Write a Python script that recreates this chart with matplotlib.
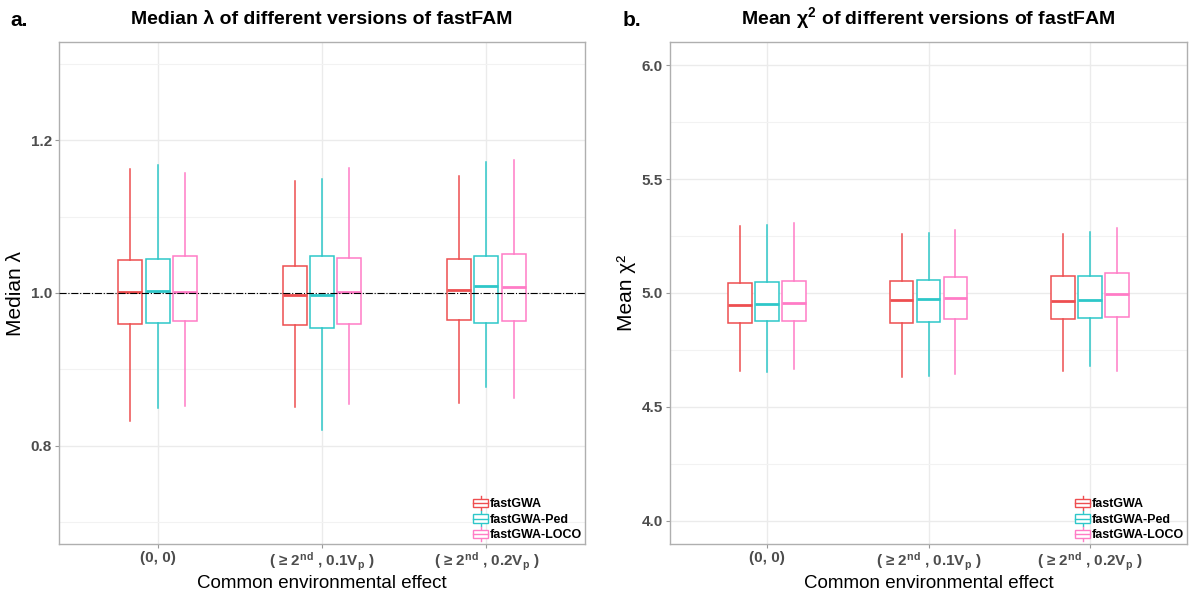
import matplotlib
matplotlib.use("Agg")
import matplotlib.pyplot as plt
from matplotlib.legend_handler import HandlerBase
from matplotlib.patches import Rectangle, Patch
from matplotlib.lines import Line2D
from matplotlib.ticker import MultipleLocator

plt.rcParams['font.family'] = ['Liberation Sans', 'DejaVu Sans']
plt.rcParams['mathtext.fontset'] = 'custom'
plt.rcParams['mathtext.rm'] = 'Liberation Sans'
plt.rcParams['mathtext.bf'] = 'Liberation Sans:bold'
plt.rcParams['mathtext.default'] = 'bf'

# ---------------- data ----------------
categories = ["(0, 0)",
              r"( ≥ 2$^{nd}$ , 0.1V$_{p}$ )",
              r"( ≥ 2$^{nd}$ , 0.2V$_{p}$ )"]
series_names = ["fastGWA", "fastGWA-Ped", "fastGWA-LOCO"]
series_colors = ["#EE4E50", "#2EC7C9", "#FF7CC6"]

# (whisker low, Q1, median, Q3, whisker high) per category
lambda_fastGWA = [(0.832, 0.959, 1.001, 1.043, 1.163),
                  (0.851, 0.958, 0.998, 1.036, 1.147),
                  (0.856, 0.964, 1.004, 1.045, 1.153)]
lambda_fastGWA_Ped = [(0.849, 0.961, 1.003, 1.044, 1.168),
                      (0.820, 0.954, 0.998, 1.048, 1.150),
                      (0.877, 0.961, 1.009, 1.048, 1.172)]
lambda_fastGWA_LOCO = [(0.852, 0.963, 1.001, 1.048, 1.157),
                       (0.855, 0.959, 1.001, 1.046, 1.164),
                       (0.863, 0.963, 1.008, 1.051, 1.174)]

chisq_fastGWA = [(4.657, 4.867, 4.948, 5.045, 5.292),
                 (4.631, 4.867, 4.971, 5.054, 5.259),
                 (4.656, 4.885, 4.965, 5.073, 5.259)]
chisq_fastGWA_Ped = [(4.655, 4.875, 4.952, 5.048, 5.300),
                     (4.636, 4.873, 4.972, 5.055, 5.265),
                     (4.679, 4.889, 4.968, 5.073, 5.268)]
chisq_fastGWA_LOCO = [(4.666, 4.876, 4.956, 5.051, 5.308),
                      (4.644, 4.885, 4.980, 5.070, 5.277),
                      (4.656, 4.895, 4.994, 5.087, 5.287)]

lambda_ticks = [0.8, 1.0, 1.2]
chisq_ticks = [4.0, 4.5, 5.0, 5.5, 6.0]

# ---------------- figure ----------------
fig = plt.figure(figsize=(11.9, 5.94), dpi=100)
axL = fig.add_axes([59/1190, 50/594, 526/1190, 502/594])
axR = fig.add_axes([670/1190, 50/594, 517/1190, 502/594])

offsets = [-0.167, 0.0, 0.167]
box_w = 0.146
grey_txt = "#4D4D4D"


class BoxHandler(HandlerBase):
    def create_artists(self, legend, orig_handle, xdescent, ydescent,
                       width, height, fontsize, trans):
        col = orig_handle.get_edgecolor()
        x0, y0 = -xdescent, -ydescent
        wl = Line2D([x0 + width/2]*2, [y0 - height*0.2, y0 + height*1.2],
                    color=col, lw=1, transform=trans)
        r = Rectangle((x0, y0 + height*0.1), width, height*0.8,
                      facecolor="white", edgecolor=col, lw=1, transform=trans)
        m = Line2D([x0, x0 + width], [y0 + height/2]*2, color=col, lw=1,
                   transform=trans)
        return [wl, r, m]


def draw_panel(ax, data_series, ylim, ticks, minor_step, ylabel, title):
    for si, (ser, col) in enumerate(zip(data_series, series_colors)):
        stats = []
        for lo, q1, med, q3, hi in ser:
            stats.append(dict(whislo=lo, q1=q1, med=med, q3=q3, whishi=hi,
                              fliers=[]))
        pos = [i + 1 + offsets[si] for i in range(len(ser))]
        ax.bxp(stats, positions=pos, widths=box_w, showcaps=False,
               showfliers=False, patch_artist=True,
               boxprops=dict(facecolor="white", edgecolor=col, linewidth=1.1),
               whiskerprops=dict(color=col, linewidth=1.1),
               medianprops=dict(color=col, linewidth=2.0), zorder=3)
    ax.set_xlim(0.4, 3.6)
    ax.set_ylim(*ylim)
    ax.set_xticks([1, 2, 3])
    ax.set_xticklabels(categories, fontsize=11, fontweight="bold",
                       color=grey_txt)
    ax.set_yticks(ticks)
    ax.set_yticklabels([f"{t:.1f}" for t in ticks], fontsize=11,
                       fontweight="bold", color=grey_txt)
    ax.yaxis.set_minor_locator(MultipleLocator(minor_step))
    ax.tick_params(axis="y", which="minor", length=0)
    ax.tick_params(axis="both", which="major", length=3, color="#999999",
                   pad=2)
    ax.grid(True, which="major", color="#EBEBEB", linewidth=1.0, zorder=0)
    ax.grid(True, which="minor", axis="y", color="#F2F2F2", linewidth=0.8,
            zorder=0)
    ax.set_axisbelow(True)
    for s in ax.spines.values():
        s.set_color("#AFAFAF")
        s.set_linewidth(1.0)
    ax.set_xlabel("Common environmental effect", fontsize=13.5, labelpad=1)
    ax.set_ylabel(ylabel, fontsize=15, labelpad=4)
    ax.set_title(title, fontsize=14, fontweight="bold", pad=13)
    handles = [Patch(edgecolor=c, facecolor="white", label=n)
               for c, n in zip(series_colors, series_names)]
    leg = ax.legend(handles=handles, loc="lower right", frameon=False,
                    handler_map={Patch: BoxHandler()},
                    prop=dict(weight="bold", size=9), handlelength=1.2,
                    handleheight=0.9, handletextpad=0.15, labelspacing=0.25,
                    borderaxespad=0.1, borderpad=0.1)
    leg.set_zorder(5)


draw_panel(axL, [lambda_fastGWA, lambda_fastGWA_Ped, lambda_fastGWA_LOCO],
           (0.671, 1.329), lambda_ticks, 0.1, "Median λ",
           r"Median λ of different versions of fastFAM")
axL.axhline(1.0, color="black", linestyle="-.", linewidth=0.8, zorder=4)

draw_panel(axR, [chisq_fastGWA, chisq_fastGWA_Ped, chisq_fastGWA_LOCO],
           (3.899, 6.101), chisq_ticks, 0.25, "Mean χ²",
           r"Mean χ$^{2}$ of different versions of fastFAM")

fig.text(10/1190, 1 - 26/594, "a.", fontsize=15, fontweight="bold")
fig.text(623/1190, 1 - 26/594, "b.", fontsize=15, fontweight="bold")

fig.savefig("out.png", dpi=100)
